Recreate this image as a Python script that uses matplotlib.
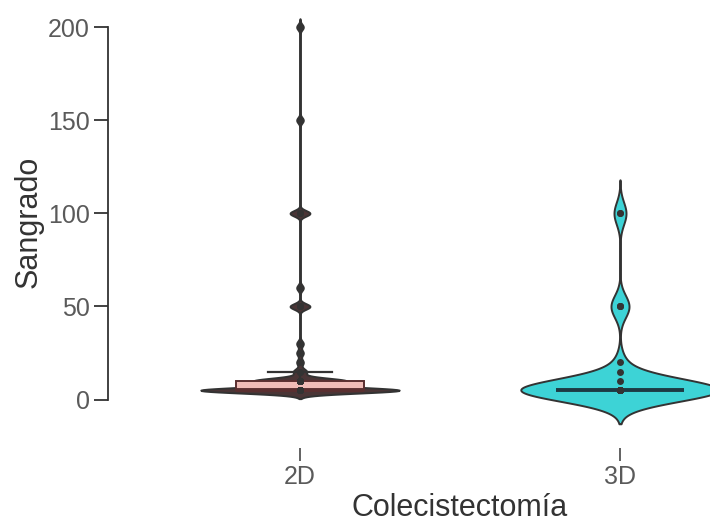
import numpy as np
import matplotlib
matplotlib.use('Agg')
import matplotlib.pyplot as plt
from matplotlib.patches import Rectangle

plt.rcParams['font.family'] = ['Liberation Sans', 'DejaVu Sans']

# ---- data ----
categories = ['2D', '3D']
values_2d = [5] * 30 + [10] * 14 + [15] * 2 + [20, 25, 30] + [50] * 3 + [60] + [100] * 3 + [150, 200]
values_3d = [5] * 32 + [10, 15, 20] + [50] * 3 + [100] * 2
y_ticks = [0, 50, 100, 150, 200]
x_label = 'Colecistectomía'
y_label = 'Sangrado'

# ---- style ----
bandwidths = [1.5, 6.0]
fills = ['#4a3536', '#3dd3d6']
box_fills = ['#f0bcb7', '#3dd3d6']
box_edges = ['#5a2f30', '#1d3a44']
line_col = '#333333'
violin_half = 0.31
box_half = 0.20
cap_half = 0.10


def kde(vals, bw, cut=3, n=800):
    v = np.asarray(vals, float)
    grid = np.linspace(v.min() - cut * bw, v.max() + cut * bw, n)
    dens = np.exp(-0.5 * ((grid[:, None] - v[None, :]) / bw) ** 2).sum(1)
    return grid, dens / dens.max()


fig = plt.figure(figsize=(7.10, 5.25), dpi=100)
ax = fig.add_axes([108 / 710, 77 / 525, 704 / 710, 447 / 525])

groups = [values_2d, values_3d]
for i, vals in enumerate(groups):
    x0 = i + 1
    g, d = kde(vals, bandwidths[i])
    ax.fill_betweenx(g, x0 - d * violin_half, x0 + d * violin_half,
                     facecolor=fills[i], edgecolor=line_col, linewidth=1.4, zorder=2)
    v = np.asarray(vals, float)
    q1, med, q3 = np.percentile(v, [25, 50, 75])
    iqr = q3 - q1
    hi = v[v <= q3 + 1.5 * iqr].max()
    lo = v[v >= q1 - 1.5 * iqr].min()
    if hi > q3:
        ax.plot([x0, x0], [q3, hi], color=line_col, lw=1.6, zorder=3)
        ax.plot([x0 - cap_half, x0 + cap_half], [hi, hi], color=line_col, lw=1.6, zorder=3)
    if lo < q1:
        ax.plot([x0, x0], [lo, q1], color=line_col, lw=1.6, zorder=3)
        ax.plot([x0 - cap_half, x0 + cap_half], [lo, lo], color=line_col, lw=1.6, zorder=3)
    if iqr > 0:
        ax.add_patch(Rectangle((x0 - box_half, q1), 2 * box_half, iqr,
                               facecolor=box_fills[i], edgecolor=box_edges[i],
                               linewidth=1.4, zorder=3))
    ax.plot([x0 - box_half, x0 + box_half], [med, med], color=box_edges[i],
            lw=2.8, solid_capstyle='butt', zorder=4)
    ax.plot(np.full(len(v), x0), v, 'o', color=line_col, markersize=5,
            markeredgewidth=0, zorder=5)

ax.set_xlim(0.4, 2.6)
ax.set_ylim(-26, 214)

ax.set_xticks([1, 2])
ax.set_xticklabels(categories)
ax.set_yticks(y_ticks)
ax.set_yticklabels([str(t) for t in y_ticks])

for s in ['top', 'right', 'bottom']:
    ax.spines[s].set_visible(False)
ax.spines['left'].set_bounds(0, 200)
ax.spines['left'].set_color(line_col)
ax.spines['left'].set_linewidth(1.3)

ax.tick_params(axis='y', length=10, width=1.3, color=line_col, labelsize=18,
               labelcolor='#5a5a5a', pad=3)
ax.tick_params(axis='x', length=9, width=1.3, color='#555555', labelsize=18,
               labelcolor='#5a5a5a', pad=3)

ax.set_xlabel(x_label, fontsize=22, color='#333333')
ax.set_ylabel(y_label, fontsize=22, color='#333333')
ax.xaxis.set_label_coords((460 - 108) / 704, -(508 - 448) / 447)
ax.xaxis.label.set_va('center')
ax.yaxis.set_label_coords((29 - 108) / 704, (448 - 222) / 447)
ax.yaxis.label.set_va('center')
ax.yaxis.label.set_ha('center')

fig.savefig('out.png', dpi=100)
